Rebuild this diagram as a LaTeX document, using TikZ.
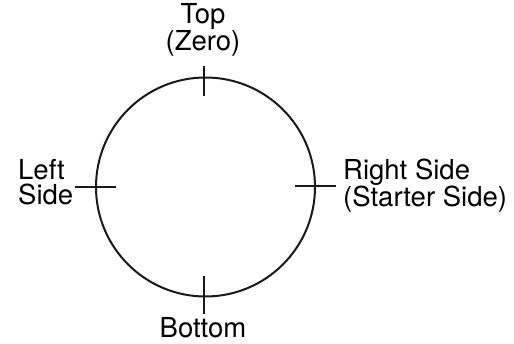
\documentclass[tikz,border=0pt]{standalone}
\usepackage{fontspec}
\setmainfont{TeX Gyre Heros}
\begin{document}
\begin{tikzpicture}[x=1pt,y=-1pt,
  lbl/.style={inner sep=0pt,font=\fontsize{27.5}{25}\selectfont},
  ring/.style={line width=2pt,black!90},
  tick/.style={line width=2pt,black!90}]
\useasboundingbox (0,0) rectangle (514,344);
\coordinate (c) at (205.5,187);
\draw[ring] (c) circle[radius=109.5];
% tick ends
\coordinate (t1) at (204,66);  \coordinate (t2) at (204,96);
\coordinate (b1) at (204,276); \coordinate (b2) at (204,314);
\coordinate (l1) at (75,187);  \coordinate (l2) at (116,187);
\coordinate (r1) at (295,186); \coordinate (r2) at (336,186);
\draw[tick] (t1) -- (t2);
\draw[tick] (b1) -- (b2);
\draw[tick] (l1) -- (l2);
\draw[tick] (r1) -- (r2);
\node[lbl,anchor=base,align=center] (top) at (203,51) {Top\\(Zero)};
\node[lbl,anchor=base west,align=left] (left) at (18,205) {Left\\Side};
\node[lbl,anchor=base west,align=left] (right) at (343,207) {Right Side\\(Starter Side)};
\node[lbl,anchor=base] (bottom) at (203,338) {Bottom};
\end{tikzpicture}
\end{document}
